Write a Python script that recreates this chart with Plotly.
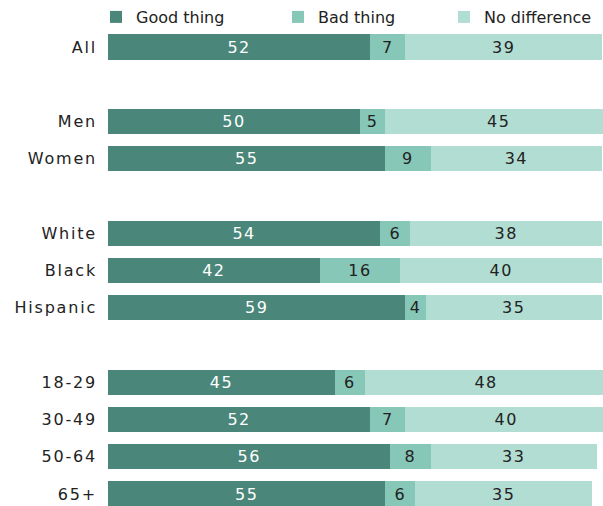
import plotly.graph_objects as go

groups = ["All", " ", "Men", "Women", "  ", "White", "Black", "Hispanic", "   ",
          "18-29", "30-49", "50-64", "65+"]
categories = ["All", "Men", "Women", "White", "Black", "Hispanic",
              "18-29", "30-49", "50-64", "65+"]
good = [52, 50, 55, 54, 42, 59, 45, 52, 56, 55]
bad = [7, 5, 9, 6, 16, 4, 6, 7, 8, 6]
nodiff = [39, 45, 34, 38, 40, 35, 48, 40, 33, 35]

series = [
    ("Good thing", good, "#4a877a", "#ffffff", "legend"),
    ("Bad thing", bad, "#87c7b8", "#222222", "legend2"),
    ("No difference", nodiff, "#b2ddd2", "#222222", "legend3"),
]

fig = go.Figure()
for name, vals, color, tcolor, leg in series:
    fig.add_trace(go.Bar(
        y=categories, x=vals, name=name, orientation="h",
        marker=dict(color=color, line=dict(width=0)),
        text=[str(v) for v in vals], textposition="inside",
        insidetextanchor="middle",
        textfont=dict(color=tcolor, size=16, family="DejaVu Sans"),
        width=0.68, hoverinfo="x+y+name", legend=leg,
    ))

legend_style = dict(orientation="h", xref="container", xanchor="left",
                    y=1.0, yanchor="top", yref="container",
                    font=dict(size=16, color="#222222"), itemwidth=30,
                    bgcolor="rgba(0,0,0,0)")

fig.update_layout(
    barmode="stack",
    width=603, height=506,
    margin=dict(l=108, r=0, t=28, b=0, autoexpand=False),
    paper_bgcolor="white", plot_bgcolor="white",
    font=dict(family="DejaVu Sans", size=16, color="#222222"),
    uniformtext=dict(minsize=16, mode="show"),
    showlegend=True,
    legend=dict(x=96 / 603, **legend_style),
    legend2=dict(x=278 / 603, **legend_style),
    legend3=dict(x=444 / 603, **legend_style),
    xaxis=dict(range=[0, 98.2], visible=False, fixedrange=True),
    yaxis=dict(categoryorder="array", categoryarray=groups, type="category",
               range=[12.32, -0.51], showgrid=False, zeroline=False,
               showline=False, ticks="", ticklabelstandoff=10, automargin=False,
               tickfont=dict(size=16, color="#222222")),
)
fig.write_html(
    "out.html",
    config={"displayModeBar": False},
    post_script=(
        "document.body.style.margin='0';document.body.style.overflow='hidden';"
        "document.querySelectorAll('.ytick text').forEach(function(t){t.style.letterSpacing='1.8px';});"
        "document.querySelectorAll('.bartext').forEach(function(t){t.style.letterSpacing='1.5px';});"
    ),
)
